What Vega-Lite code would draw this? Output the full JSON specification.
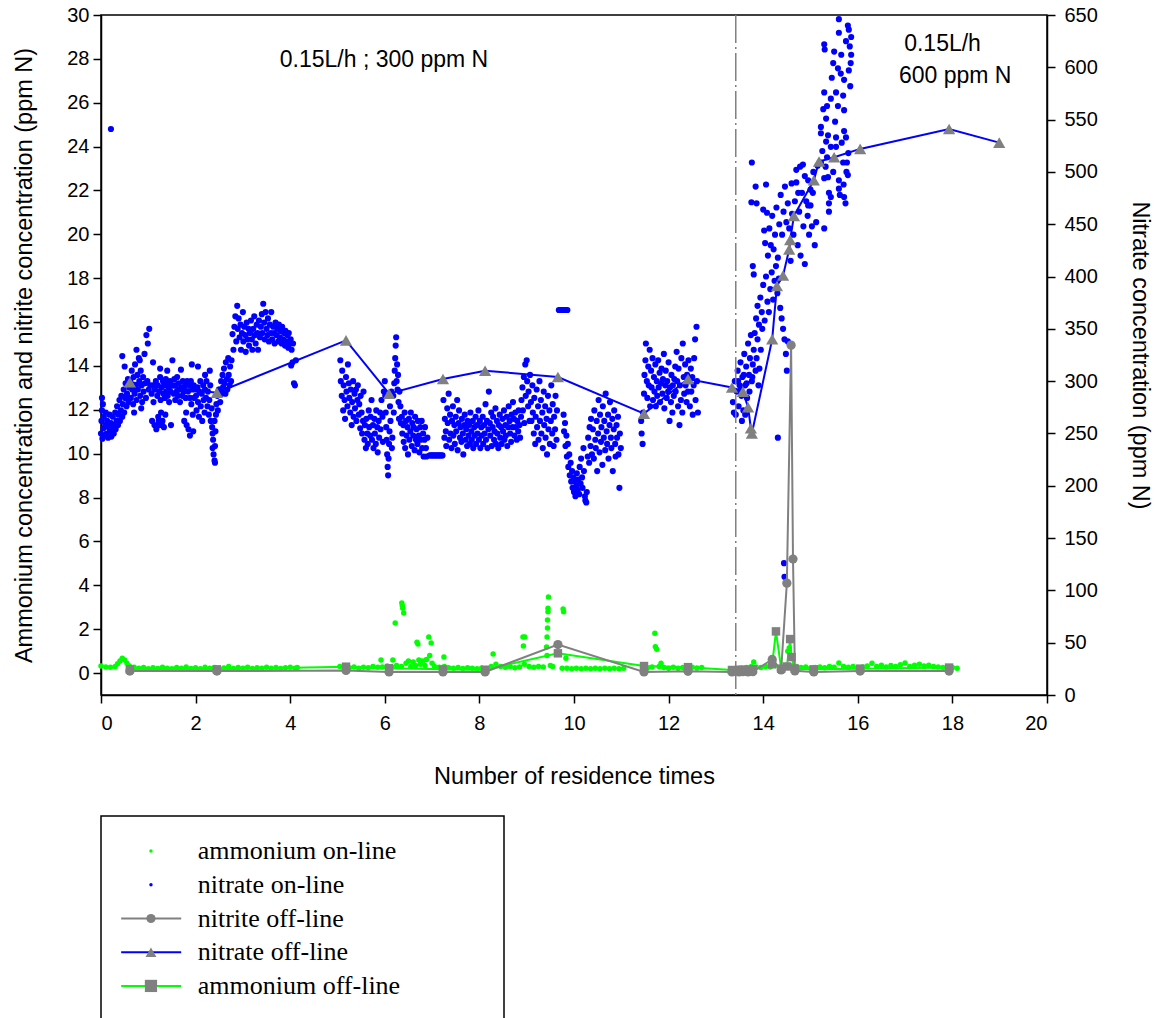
{
 "$schema": "https://vega.github.io/schema/vega-lite/v6.json",
 "autosize": {"type": "pad"},
 "padding": {"left": 12, "top": 4, "right": 5, "bottom": 0},
 "bounds": "flush",
 "spacing": 121,
 "config": {
  "view": {"stroke": "black", "strokeWidth": 1.5},
  "axis": {"labelFont": "Liberation Sans", "titleFont": "Liberation Sans", "labelFontSize": 20, "titleFontSize": 23.5, "titleFontWeight": "normal", "labelColor": "black", "titleColor": "black", "tickColor": "black", "domainColor": "black", "grid": false, "tickSize": 8, "tickWidth": 1.5, "domainWidth": 1.5}
 },
 "datasets": {
  "nitOn": [
   {"x":0.00,"n":250},{"x":0.01,"n":262},{"x":0.02,"n":272},{"x":0.02,"n":284},{"x":0.03,"n":245},{"x":0.04,"n":278},{"x":0.05,"n":255},{"x":0.06,"n":266},{"x":0.08,"n":248},{"x":0.09,"n":258},{"x":0.10,"n":270},{"x":0.12,"n":250},{"x":0.13,"n":262},{"x":0.15,"n":246},{"x":0.16,"n":256},{"x":0.18,"n":268},{"x":0.19,"n":252},{"x":0.21,"n":260},{"x":0.21,"n":541},{"x":0.22,"n":247},{"x":0.24,"n":256},{"x":0.25,"n":266},{"x":0.27,"n":250},{"x":0.28,"n":258},{"x":0.30,"n":270},{"x":0.31,"n":254},{"x":0.33,"n":262},{"x":0.34,"n":276},{"x":0.36,"n":258},{"x":0.37,"n":268},{"x":0.39,"n":282},{"x":0.40,"n":262},{"x":0.42,"n":272},{"x":0.43,"n":286},{"x":0.45,"n":266},{"x":0.45,"n":324},{"x":0.46,"n":278},{"x":0.48,"n":292},{"x":0.49,"n":270},{"x":0.50,"n":314},{"x":0.51,"n":284},{"x":0.52,"n":298},{"x":0.54,"n":276},{"x":0.55,"n":288},{"x":0.57,"n":302},{"x":0.58,"n":280},{"x":0.60,"n":294},
   {"x":0.62,"n":300},{"x":0.63,"n":284},{"x":0.65,"n":310},{"x":0.66,"n":292},{"x":0.68,"n":278},{"x":0.69,"n":304},{"x":0.70,"n":270},{"x":0.71,"n":288},{"x":0.72,"n":316},{"x":0.74,"n":296},{"x":0.75,"n":282},{"x":0.75,"n":330},{"x":0.77,"n":306},{"x":0.78,"n":292},{"x":0.80,"n":322},{"x":0.81,"n":300},{"x":0.82,"n":320},{"x":0.83,"n":286},{"x":0.84,"n":310},{"x":0.85,"n":274},{"x":0.86,"n":296},{"x":0.87,"n":280},{"x":0.89,"n":304},{"x":0.90,"n":290},{"x":0.92,"n":326},{"x":0.93,"n":298},{"x":0.95,"n":284},{"x":0.96,"n":344},{"x":0.98,"n":300},{"x":0.99,"n":336},{"x":1.01,"n":292},{"x":1.02,"n":350},{"x":1.04,"n":296},
   {"x":1.07,"n":288},{"x":1.08,"n":262},{"x":1.10,"n":296},{"x":1.10,"n":318},{"x":1.11,"n":280},{"x":1.13,"n":258},{"x":1.14,"n":292},{"x":1.16,"n":300},{"x":1.17,"n":254},{"x":1.19,"n":286},{"x":1.20,"n":296},{"x":1.21,"n":266},{"x":1.22,"n":262},{"x":1.23,"n":290},{"x":1.24,"n":258},{"x":1.25,"n":304},{"x":1.25,"n":312},{"x":1.26,"n":282},{"x":1.27,"n":270},{"x":1.28,"n":294},{"x":1.29,"n":258},{"x":1.30,"n":262},{"x":1.31,"n":300},{"x":1.32,"n":288},{"x":1.33,"n":256},{"x":1.34,"n":296},{"x":1.35,"n":284},{"x":1.36,"n":268},{"x":1.37,"n":302},{"x":1.38,"n":290},{"x":1.40,"n":298},{"x":1.40,"n":310},{"x":1.41,"n":286},{"x":1.43,"n":294},{"x":1.44,"n":280},{"x":1.46,"n":300},{"x":1.47,"n":290},{"x":1.48,"n":258},{"x":1.49,"n":296},
   {"x":1.51,"n":320},{"x":1.52,"n":296},{"x":1.54,"n":288},{"x":1.55,"n":302},{"x":1.57,"n":282},{"x":1.58,"n":296},{"x":1.60,"n":290},{"x":1.61,"n":304},{"x":1.63,"n":286},{"x":1.64,"n":298},{"x":1.66,"n":292},{"x":1.67,"n":280},{"x":1.69,"n":311},{"x":1.70,"n":294},{"x":1.72,"n":286},{"x":1.73,"n":300},{"x":1.75,"n":290},{"x":1.76,"n":262},{"x":1.78,"n":296},{"x":1.79,"n":284},{"x":1.80,"n":270},{"x":1.81,"n":258},{"x":1.82,"n":300},{"x":1.84,"n":290},{"x":1.85,"n":254},{"x":1.87,"n":296},{"x":1.88,"n":284},{"x":1.88,"n":248},{"x":1.90,"n":300},{"x":1.91,"n":278},{"x":1.92,"n":316},{"x":1.93,"n":292},{"x":1.94,"n":268},{"x":1.95,"n":252},{"x":1.96,"n":296},{"x":1.97,"n":284},{"x":1.99,"n":292},
   {"x":2.01,"n":286},{"x":2.02,"n":272},{"x":2.04,"n":294},{"x":2.05,"n":314},{"x":2.05,"n":280},{"x":2.07,"n":266},{"x":2.08,"n":290},{"x":2.10,"n":300},{"x":2.11,"n":276},{"x":2.13,"n":288},{"x":2.14,"n":262},{"x":2.16,"n":296},{"x":2.17,"n":282},{"x":2.19,"n":270},{"x":2.20,"n":292},{"x":2.20,"n":306},{"x":2.22,"n":284},{"x":2.23,"n":300},{"x":2.25,"n":276},{"x":2.26,"n":290},{"x":2.28,"n":268},{"x":2.29,"n":282},{"x":2.30,"n":310},{"x":2.31,"n":296},{"x":2.32,"n":262},{"x":2.34,"n":274},{"x":2.35,"n":256},{"x":2.36,"n":250},{"x":2.36,"n":236},{"x":2.37,"n":244},{"x":2.38,"n":230},{"x":2.40,"n":224},{"x":2.40,"n":262},{"x":2.41,"n":222},{"x":2.41,"n":238},{"x":2.42,"n":252},{"x":2.43,"n":268},{"x":2.44,"n":278},{"x":2.46,"n":286},{"x":2.47,"n":272},{"x":2.49,"n":292},
   {"x":2.51,"n":292},{"x":2.52,"n":280},{"x":2.54,"n":300},{"x":2.55,"n":288},{"x":2.57,"n":306},{"x":2.58,"n":294},{"x":2.60,"n":312},{"x":2.61,"n":298},{"x":2.63,"n":288},{"x":2.64,"n":318},{"x":2.66,"n":302},{"x":2.67,"n":292},{"x":2.69,"n":322},{"x":2.70,"n":306},{"x":2.72,"n":296},{"x":2.73,"n":314},{"x":2.75,"n":300},{"x":2.76,"n":320},
   {"x":2.78,"n":345},{"x":2.80,"n":330},{"x":2.82,"n":352},{"x":2.84,"n":362},{"x":2.86,"n":338},{"x":2.88,"n":372},{"x":2.89,"n":350},{"x":2.91,"n":360},{"x":2.93,"n":342},{"x":2.95,"n":354},{"x":2.96,"n":330},{"x":2.98,"n":346},{"x":3.00,"n":366},{"x":3.01,"n":338},{"x":3.03,"n":352},{"x":3.05,"n":344},{"x":3.06,"n":328},{"x":3.08,"n":356},{"x":3.10,"n":340},{"x":3.12,"n":350},{"x":3.13,"n":334},{"x":3.15,"n":346},{"x":3.17,"n":358},{"x":3.19,"n":340},{"x":3.20,"n":330},{"x":3.22,"n":350},{"x":3.24,"n":362},{"x":3.25,"n":344},{"x":3.27,"n":336},{"x":3.29,"n":354},{"x":3.31,"n":346},{"x":3.32,"n":330},{"x":3.34,"n":358},{"x":3.36,"n":342},{"x":3.38,"n":352},{"x":3.40,"n":364},{"x":3.41,"n":346},{"x":3.43,"n":374},{"x":3.45,"n":356},{"x":3.46,"n":340},{"x":3.48,"n":366},{"x":3.50,"n":350},{"x":3.52,"n":344},{"x":3.53,"n":360},{"x":3.55,"n":338},{"x":3.57,"n":354},{"x":3.59,"n":346},{"x":3.60,"n":366},{"x":3.62,"n":340},{"x":3.64,"n":352},{"x":3.66,"n":346},{"x":3.67,"n":336},{"x":3.69,"n":356},{"x":3.71,"n":344},{"x":3.73,"n":350},{"x":3.75,"n":338},{"x":3.76,"n":354},{"x":3.78,"n":342},{"x":3.80,"n":348},{"x":3.82,"n":336},{"x":3.83,"n":352},{"x":3.85,"n":340},{"x":3.87,"n":346},{"x":3.89,"n":334},{"x":3.90,"n":348},{"x":3.92,"n":338},{"x":3.94,"n":344},{"x":3.96,"n":332},{"x":3.97,"n":346},{"x":3.99,"n":336},{"x":4.01,"n":340},{"x":4.02,"n":315},{"x":4.03,"n":330},{"x":4.05,"n":318},{"x":4.06,"n":336},{"x":4.08,"n":298},{"x":4.10,"n":296},{"x":4.12,"n":320},
   {"x":5.06,"n":320},{"x":5.07,"n":300},{"x":5.09,"n":286},{"x":5.10,"n":310},{"x":5.12,"n":272},{"x":5.13,"n":296},{"x":5.15,"n":282},{"x":5.16,"n":264},{"x":5.18,"n":304},{"x":5.19,"n":290},{"x":5.21,"n":276},{"x":5.22,"n":316},{"x":5.24,"n":298},{"x":5.25,"n":284},{"x":5.27,"n":270},{"x":5.28,"n":292},{"x":5.30,"n":258},{"x":5.31,"n":280},{"x":5.33,"n":300},{"x":5.34,"n":266},{"x":5.36,"n":288},{"x":5.37,"n":274},{"x":5.39,"n":292},{"x":5.40,"n":262},{"x":5.42,"n":282},{"x":5.43,"n":296},{"x":5.45,"n":268},{"x":5.46,"n":278},{"x":5.48,"n":255},{"x":5.49,"n":286},{"x":5.51,"n":270},{"x":5.52,"n":250},{"x":5.54,"n":262},{"x":5.55,"n":290},{"x":5.57,"n":244},{"x":5.58,"n":258},{"x":5.60,"n":236},{"x":5.61,"n":264},{"x":5.63,"n":250},{"x":5.64,"n":240},{"x":5.66,"n":272},{"x":5.67,"n":256},{"x":5.69,"n":248},{"x":5.70,"n":266},{"x":5.72,"n":282},{"x":5.73,"n":244},{"x":5.75,"n":258},{"x":5.76,"n":236},{"x":5.78,"n":264},{"x":5.79,"n":250},{"x":5.81,"n":240},{"x":5.82,"n":272},{"x":5.84,"n":256},{"x":5.85,"n":232},{"x":5.87,"n":262},{"x":5.88,"n":246},{"x":5.90,"n":270},{"x":5.91,"n":254},{"x":5.93,"n":282},{"x":5.95,"n":266},{"x":5.96,"n":242},{"x":5.98,"n":290},
   {"x":6.00,"n":300},{"x":6.01,"n":286},{"x":6.02,"n":270},{"x":6.03,"n":256},{"x":6.04,"n":244},{"x":6.05,"n":230},{"x":6.06,"n":218},{"x":6.07,"n":210},{"x":6.08,"n":226},{"x":6.09,"n":240},{"x":6.10,"n":252},{"x":6.11,"n":276},{"x":6.12,"n":262},{"x":6.14,"n":290},{"x":6.15,"n":236},{"x":6.16,"n":246},{"x":6.18,"n":286},{"x":6.19,"n":270},{"x":6.20,"n":298},{"x":6.21,"n":310},{"x":6.22,"n":322},{"x":6.23,"n":334},{"x":6.24,"n":342},{"x":6.25,"n":300},{"x":6.26,"n":316},{"x":6.27,"n":292},{"x":6.28,"n":306},{"x":6.29,"n":280},{"x":6.30,"n":264},{"x":6.31,"n":290},{"x":6.33,"n":276},{"x":6.34,"n":260},
   {"x":6.36,"n":266},{"x":6.37,"n":250},{"x":6.39,"n":258},{"x":6.40,"n":242},{"x":6.42,"n":270},{"x":6.43,"n":236},{"x":6.45,"n":262},{"x":6.46,"n":248},{"x":6.48,"n":256},{"x":6.49,"n":230},{"x":6.51,"n":264},{"x":6.52,"n":244},{"x":6.54,"n":252},{"x":6.55,"n":270},{"x":6.57,"n":238},{"x":6.58,"n":260},{"x":6.60,"n":248},{"x":6.61,"n":256},{"x":6.63,"n":234},{"x":6.64,"n":266},{"x":6.66,"n":244},{"x":6.67,"n":254},{"x":6.69,"n":240},{"x":6.70,"n":262},{"x":6.72,"n":248},{"x":6.73,"n":232},{"x":6.75,"n":256},{"x":6.76,"n":244},{"x":6.78,"n":262},{"x":6.79,"n":236},{"x":6.81,"n":250},{"x":6.82,"n":228},{"x":6.84,"n":244},{"x":6.85,"n":256},{"x":6.87,"n":236},{"x":6.88,"n":228},{"x":6.90,"n":246},
   {"x":6.95,"n":229},{"x":6.98,"n":229},{"x":7.01,"n":229},{"x":7.04,"n":229},{"x":7.07,"n":229},{"x":7.10,"n":229},{"x":7.13,"n":229},{"x":7.16,"n":229},{"x":7.19,"n":229},{"x":7.22,"n":229},
   {"x":7.24,"n":282},{"x":7.26,"n":246},{"x":7.27,"n":264},{"x":7.29,"n":252},{"x":7.30,"n":238},{"x":7.32,"n":274},{"x":7.33,"n":260},{"x":7.35,"n":288},{"x":7.36,"n":244},{"x":7.38,"n":268},{"x":7.39,"n":250},{"x":7.41,"n":236},{"x":7.42,"n":262},{"x":7.44,"n":276},{"x":7.45,"n":248},{"x":7.47,"n":258},{"x":7.48,"n":240},{"x":7.50,"n":266},{"x":7.51,"n":252},{"x":7.53,"n":282},{"x":7.54,"n":234},{"x":7.56,"n":260},{"x":7.57,"n":272},{"x":7.59,"n":246},{"x":7.60,"n":256},{"x":7.62,"n":242},{"x":7.63,"n":264},{"x":7.65,"n":250},{"x":7.66,"n":230},{"x":7.68,"n":258},{"x":7.69,"n":268},{"x":7.71,"n":244},{"x":7.72,"n":254},{"x":7.74,"n":238},{"x":7.75,"n":262},{"x":7.77,"n":248},{"x":7.78,"n":258},{"x":7.80,"n":240},{"x":7.81,"n":270},{"x":7.83,"n":252},{"x":7.84,"n":244},{"x":7.86,"n":262},{"x":7.87,"n":236},{"x":7.89,"n":256},{"x":7.90,"n":248},{"x":7.92,"n":266},{"x":7.93,"n":240},{"x":7.95,"n":258},{"x":7.96,"n":250},{"x":7.98,"n":272},{"x":7.99,"n":244},{"x":8.01,"n":262},{"x":8.02,"n":236},{"x":8.04,"n":256},{"x":8.05,"n":248},{"x":8.07,"n":266},{"x":8.08,"n":240},{"x":8.10,"n":258},{"x":8.11,"n":250},{"x":8.13,"n":278},{"x":8.14,"n":244},{"x":8.16,"n":262},{"x":8.17,"n":236},{"x":8.19,"n":254},{"x":8.20,"n":290},
   {"x":8.22,"n":260},{"x":8.23,"n":248},{"x":8.25,"n":270},{"x":8.26,"n":238},{"x":8.28,"n":256},{"x":8.29,"n":266},{"x":8.31,"n":244},{"x":8.32,"n":252},{"x":8.34,"n":274},{"x":8.35,"n":240},{"x":8.37,"n":262},{"x":8.38,"n":250},{"x":8.40,"n":236},{"x":8.41,"n":258},{"x":8.43,"n":268},{"x":8.44,"n":246},{"x":8.46,"n":256},{"x":8.47,"n":240},{"x":8.49,"n":264},{"x":8.50,"n":252},{"x":8.52,"n":272},{"x":8.53,"n":244},{"x":8.55,"n":258},{"x":8.56,"n":248},{"x":8.58,"n":266},{"x":8.59,"n":238},{"x":8.61,"n":256},{"x":8.62,"n":276},{"x":8.64,"n":262},{"x":8.65,"n":250},{"x":8.67,"n":242},{"x":8.68,"n":268},{"x":8.70,"n":256},{"x":8.71,"n":280},{"x":8.73,"n":264},{"x":8.74,"n":248},{"x":8.76,"n":270},{"x":8.77,"n":256},{"x":8.79,"n":244},{"x":8.80,"n":262},{"x":8.82,"n":252},{"x":8.83,"n":272},{"x":8.85,"n":258},{"x":8.86,"n":246},{"x":8.88,"n":266},{"x":8.89,"n":282},{"x":8.91,"n":294},{"x":8.92,"n":272},{"x":8.94,"n":304},{"x":8.95,"n":260},{"x":8.97,"n":316},{"x":8.98,"n":286},{"x":9.00,"n":320},{"x":9.01,"n":300},{"x":9.03,"n":276},{"x":9.04,"n":290},{"x":9.06,"n":262},{"x":9.07,"n":306},
   {"x":9.09,"n":280},{"x":9.10,"n":262},{"x":9.12,"n":296},{"x":9.13,"n":270},{"x":9.15,"n":250},{"x":9.16,"n":284},{"x":9.18,"n":240},{"x":9.19,"n":266},{"x":9.21,"n":292},{"x":9.22,"n":256},{"x":9.24,"n":276},{"x":9.25,"n":244},{"x":9.27,"n":300},{"x":9.28,"n":262},{"x":9.30,"n":282},{"x":9.31,"n":250},{"x":9.33,"n":270},{"x":9.34,"n":236},{"x":9.36,"n":290},{"x":9.37,"n":258},{"x":9.39,"n":276},{"x":9.40,"n":246},{"x":9.42,"n":264},{"x":9.43,"n":230},{"x":9.45,"n":286},{"x":9.46,"n":254},{"x":9.48,"n":272},{"x":9.49,"n":240},{"x":9.51,"n":262},{"x":9.52,"n":296},{"x":9.54,"n":250},{"x":9.55,"n":278},{"x":9.57,"n":238},{"x":9.58,"n":266},{"x":9.60,"n":254},{"x":9.61,"n":286},{"x":9.63,"n":244},{"x":9.64,"n":272},
   {"x":9.68,"n":368},{"x":9.71,"n":368},{"x":9.74,"n":368},{"x":9.77,"n":368},{"x":9.80,"n":368},{"x":9.83,"n":368},{"x":9.86,"n":368},
   {"x":9.78,"n":268},{"x":9.79,"n":252},{"x":9.81,"n":260},{"x":9.82,"n":238},{"x":9.84,"n":248},{"x":9.85,"n":228},{"x":9.87,"n":240},{"x":9.88,"n":218},{"x":9.90,"n":230},{"x":9.91,"n":210},{"x":9.93,"n":222},{"x":9.94,"n":204},{"x":9.96,"n":214},{"x":9.97,"n":198},{"x":9.99,"n":208},{"x":10.00,"n":194},{"x":10.02,"n":204},{"x":10.03,"n":190},{"x":10.05,"n":200},{"x":10.06,"n":212},{"x":10.08,"n":196},{"x":10.09,"n":206},{"x":10.11,"n":192},{"x":10.12,"n":218},{"x":10.14,"n":202},{"x":10.15,"n":226},{"x":10.17,"n":208},{"x":10.18,"n":198},{"x":10.20,"n":236},{"x":10.21,"n":214},{"x":10.23,"n":190},{"x":10.24,"n":186},{"x":10.26,"n":184},{"x":10.27,"n":194},{"x":10.29,"n":228},{"x":10.30,"n":246},{"x":10.32,"n":222},{"x":10.33,"n":256},{"x":10.35,"n":238},{"x":10.36,"n":264},{"x":10.38,"n":230},
   {"x":10.40,"n":254},{"x":10.42,"n":226},{"x":10.43,"n":272},{"x":10.45,"n":244},{"x":10.46,"n":236},{"x":10.48,"n":262},{"x":10.49,"n":214},{"x":10.51,"n":250},{"x":10.52,"n":282},{"x":10.54,"n":232},{"x":10.55,"n":268},{"x":10.57,"n":242},{"x":10.58,"n":256},{"x":10.60,"n":220},{"x":10.61,"n":276},{"x":10.63,"n":246},{"x":10.64,"n":262},{"x":10.66,"n":234},{"x":10.67,"n":288},{"x":10.69,"n":252},{"x":10.70,"n":240},{"x":10.72,"n":268},{"x":10.73,"n":226},{"x":10.75,"n":258},{"x":10.76,"n":280},{"x":10.78,"n":246},{"x":10.79,"n":236},{"x":10.81,"n":264},{"x":10.82,"n":214},{"x":10.84,"n":254},{"x":10.85,"n":272},{"x":10.87,"n":240},{"x":10.88,"n":228},{"x":10.90,"n":258},{"x":10.91,"n":246},{"x":10.93,"n":266},{"x":10.94,"n":230},{"x":10.96,"n":198},{"x":10.97,"n":250},{"x":10.99,"n":236},
   {"x":11.42,"n":262},{"x":11.43,"n":250},{"x":11.45,"n":240},{"x":11.46,"n":270},{"x":11.48,"n":288},{"x":11.49,"n":306},{"x":11.51,"n":320},{"x":11.52,"n":336},{"x":11.54,"n":300},{"x":11.55,"n":284},{"x":11.57,"n":314},{"x":11.58,"n":296},{"x":11.60,"n":330},{"x":11.61,"n":276},{"x":11.63,"n":310},{"x":11.64,"n":294},{"x":11.66,"n":322},{"x":11.67,"n":282},{"x":11.69,"n":304},{"x":11.70,"n":290},{"x":11.72,"n":316},{"x":11.73,"n":276},{"x":11.75,"n":300},{"x":11.76,"n":286},{"x":11.78,"n":320},{"x":11.79,"n":294},{"x":11.81,"n":308},{"x":11.82,"n":280},{"x":11.84,"n":298},{"x":11.85,"n":312},{"x":11.87,"n":288},{"x":11.88,"n":302},{"x":11.90,"n":326},{"x":11.91,"n":274},{"x":11.93,"n":296},{"x":11.94,"n":310},{"x":11.96,"n":284},{"x":11.97,"n":300},{"x":11.99,"n":290},{"x":12.00,"n":318},{"x":12.02,"n":262},{"x":12.03,"n":294},{"x":12.05,"n":280},{"x":12.06,"n":306},{"x":12.08,"n":270},{"x":12.09,"n":296},{"x":12.11,"n":286},{"x":12.12,"n":302},{"x":12.14,"n":314},{"x":12.15,"n":290},{"x":12.17,"n":328},{"x":12.18,"n":300},{"x":12.20,"n":276},{"x":12.21,"n":312},{"x":12.23,"n":258},{"x":12.24,"n":296},{"x":12.26,"n":282},{"x":12.27,"n":322},{"x":12.29,"n":270},{"x":12.30,"n":336},{"x":12.32,"n":304},{"x":12.33,"n":288},{"x":12.35,"n":316},{"x":12.36,"n":296},{"x":12.38,"n":280},{"x":12.39,"n":306},{"x":12.41,"n":290},{"x":12.42,"n":320},{"x":12.44,"n":300},{"x":12.45,"n":276},{"x":12.47,"n":312},{"x":12.48,"n":290},{"x":12.50,"n":304},{"x":12.51,"n":268},{"x":12.53,"n":296},{"x":12.54,"n":322},{"x":12.56,"n":340},{"x":12.57,"n":282},{"x":12.59,"n":352},{"x":12.60,"n":300},{"x":12.62,"n":270},
   {"x":13.36,"n":280},{"x":13.38,"n":270},{"x":13.40,"n":300},{"x":13.42,"n":268},{"x":13.44,"n":290},{"x":13.46,"n":310},{"x":13.47,"n":300},{"x":13.48,"n":276},{"x":13.50,"n":296},{"x":13.52,"n":318},{"x":13.53,"n":292},{"x":13.54,"n":286},{"x":13.55,"n":262},{"x":13.56,"n":304},{"x":13.58,"n":272},{"x":13.59,"n":306},{"x":13.60,"n":326},{"x":13.62,"n":296},{"x":13.62,"n":268},{"x":13.64,"n":314},{"x":13.65,"n":298},{"x":13.66,"n":284},{"x":13.68,"n":336},{"x":13.70,"n":306},{"x":13.71,"n":290},{"x":13.72,"n":322},{"x":13.74,"n":344},{"x":13.76,"n":300},{"x":13.77,"n":304},{"x":13.78,"n":316},{"x":13.80,"n":330},{"x":13.82,"n":346},{"x":13.84,"n":310},{"x":13.86,"n":322},{"x":13.88,"n":340},{"x":13.90,"n":296},{"x":13.92,"n":312},{"x":13.95,"n":330},{"x":13.98,"n":350},
   {"x":13.78,"n":410},{"x":13.80,"n":402},{"x":13.85,"n":360},{"x":13.88,"n":372},{"x":13.91,"n":354},{"x":13.94,"n":380},{"x":13.97,"n":366},{"x":14.00,"n":392},{"x":14.03,"n":358},{"x":14.06,"n":400},{"x":14.09,"n":376},{"x":14.12,"n":366},{"x":14.15,"n":388},{"x":14.18,"n":404},{"x":14.21,"n":378},{"x":14.24,"n":396},{"x":14.27,"n":410},{"x":14.30,"n":384},{"x":14.33,"n":398},{"x":14.36,"n":370},{"x":14.39,"n":360},{"x":14.42,"n":350},{"x":14.45,"n":340},{"x":14.48,"n":326},{"x":14.50,"n":310},{"x":14.52,"n":338},{"x":14.31,"n":246},{"x":14.44,"n":126},{"x":14.45,"n":113},
   {"x":13.76,"n":509},{"x":13.75,"n":471},{"x":13.84,"n":486},{"x":13.86,"n":470},{"x":14.00,"n":464},{"x":14.02,"n":444},{"x":14.04,"n":432},{"x":14.06,"n":488},{"x":14.08,"n":461},{"x":14.10,"n":420},{"x":14.13,"n":446},{"x":14.16,"n":430},{"x":14.19,"n":458},{"x":14.22,"n":426},{"x":14.25,"n":440},{"x":14.28,"n":466},{"x":14.31,"n":418},{"x":14.34,"n":450},{"x":14.37,"n":478},{"x":14.40,"n":440},{"x":14.43,"n":462},{"x":14.46,"n":486},{"x":14.49,"n":452},{"x":14.52,"n":470},{"x":14.55,"n":446},{"x":14.58,"n":415},{"x":14.60,"n":489},{"x":14.61,"n":460},{"x":14.64,"n":440},{"x":14.67,"n":472},{"x":14.70,"n":502},{"x":14.70,"n":490},{"x":14.73,"n":430},{"x":14.74,"n":480},{"x":14.76,"n":462},{"x":14.78,"n":505},{"x":14.79,"n":420},{"x":14.82,"n":480},{"x":14.84,"n":507},{"x":14.85,"n":448},{"x":14.88,"n":412},{"x":14.88,"n":496},{"x":14.91,"n":472},{"x":14.94,"n":458},{"x":14.95,"n":492},{"x":14.95,"n":468},{"x":14.97,"n":440},{"x":15.00,"n":483},{"x":15.00,"n":468},{"x":15.03,"n":448},{"x":15.05,"n":480},{"x":15.06,"n":500},{"x":15.09,"n":430},{"x":15.12,"n":452},{"x":15.15,"n":506},
   {"x":15.60,"n":646},{"x":15.79,"n":640},{"x":15.81,"n":636},{"x":15.60,"n":633},{"x":15.86,"n":629},{"x":15.29,"n":622},{"x":15.30,"n":617},{"x":15.50,"n":615},{"x":15.83,"n":620},{"x":15.86,"n":612},{"x":15.48,"n":604},{"x":15.58,"n":599},{"x":15.64,"n":594},{"x":15.71,"n":588},{"x":15.85,"n":604},{"x":15.81,"n":597},{"x":15.29,"n":576},{"x":15.54,"n":576},{"x":15.43,"n":570},{"x":15.35,"n":563},{"x":15.58,"n":563},{"x":15.69,"n":573},{"x":15.71,"n":559},{"x":15.33,"n":551},{"x":15.22,"n":543},{"x":15.37,"n":535},{"x":15.54,"n":533},{"x":15.71,"n":539},{"x":15.75,"n":533},{"x":15.22,"n":537},{"x":15.33,"n":529},{"x":15.43,"n":524},{"x":15.54,"n":524},{"x":15.35,"n":514},{"x":15.69,"n":509},{"x":15.77,"n":509},{"x":15.22,"n":509},{"x":15.29,"n":494},{"x":15.37,"n":495},{"x":15.60,"n":492},{"x":15.79,"n":497},{"x":15.60,"n":484},{"x":15.71,"n":476},{"x":15.39,"n":480},{"x":15.43,"n":476},{"x":15.39,"n":470},{"x":15.39,"n":462},{"x":15.29,"n":446},{"x":15.62,"n":478},{"x":15.70,"n":488},{"x":15.76,"n":500},{"x":15.80,"n":518},{"x":15.66,"n":528},{"x":15.74,"n":470},{"x":15.27,"n":560},{"x":15.45,"n":590},{"x":15.52,"n":548},{"x":15.65,"n":612},{"x":15.75,"n":625},{"x":15.84,"n":582},{"x":15.48,"n":500},{"x":15.25,"n":520},{"x":15.32,"n":505}
  ],
  "ammOn": [
   {"x":0.0,"a":0.32},{"x":0.1,"a":0.28},{"x":0.2,"a":0.26},{"x":0.3,"a":0.30},{"x":0.35,"a":0.42},{"x":0.4,"a":0.55},{"x":0.45,"a":0.68},{"x":0.5,"a":0.60},{"x":0.55,"a":0.45},{"x":0.6,"a":0.32},{"x":0.7,"a":0.26},{"x":0.8,"a":0.22},{"x":0.9,"a":0.25},{"x":1.0,"a":0.20},{"x":1.1,"a":0.24},{"x":1.2,"a":0.21},{"x":1.3,"a":0.27},{"x":1.4,"a":0.22},{"x":1.5,"a":0.20},{"x":1.6,"a":0.25},{"x":1.7,"a":0.22},{"x":1.8,"a":0.28},{"x":1.9,"a":0.21},{"x":2.0,"a":0.24},{"x":2.1,"a":0.20},{"x":2.2,"a":0.26},{"x":2.3,"a":0.22},{"x":2.4,"a":0.25},{"x":2.5,"a":0.20},{"x":2.6,"a":0.23},{"x":2.7,"a":0.30},{"x":2.8,"a":0.21},{"x":2.9,"a":0.25},{"x":3.0,"a":0.22},{"x":3.1,"a":0.26},{"x":3.2,"a":0.21},{"x":3.3,"a":0.24},{"x":3.4,"a":0.22},{"x":3.5,"a":0.27},{"x":3.6,"a":0.22},{"x":3.7,"a":0.25},{"x":3.8,"a":0.21},{"x":3.9,"a":0.24},{"x":4.0,"a":0.26},{"x":4.1,"a":0.22},{"x":4.15,"a":0.25},
   {"x":5.05,"a":0.30},{"x":5.15,"a":0.26},{"x":5.25,"a":0.24},{"x":5.35,"a":0.28},{"x":5.45,"a":0.22},{"x":5.55,"a":0.26},{"x":5.65,"a":0.24},{"x":5.75,"a":0.30},{"x":5.85,"a":0.26},{"x":5.92,"a":0.60},{"x":5.95,"a":0.28},{"x":6.05,"a":0.32},{"x":6.15,"a":0.26},{"x":6.17,"a":0.60},{"x":6.22,"a":2.28},{"x":6.25,"a":0.35},{"x":6.35,"a":0.30},{"x":6.36,"a":3.20},{"x":6.37,"a":3.08},{"x":6.38,"a":2.95},{"x":6.40,"a":2.74},{"x":6.45,"a":0.45},{"x":6.50,"a":0.55},{"x":6.55,"a":0.30},{"x":6.6,"a":0.50},{"x":6.65,"a":0.35},{"x":6.68,"a":1.41},{"x":6.70,"a":1.33},{"x":6.72,"a":0.60},{"x":6.75,"a":0.40},{"x":6.8,"a":0.55},{"x":6.85,"a":0.35},{"x":6.88,"a":0.62},{"x":6.93,"a":1.64},{"x":6.95,"a":0.80},{"x":6.98,"a":1.37},{"x":7.0,"a":0.45},{"x":7.05,"a":0.30},{"x":7.15,"a":0.26},{"x":7.25,"a":0.73},{"x":7.26,"a":0.30},{"x":7.35,"a":0.24},{"x":7.45,"a":0.22},{"x":7.55,"a":0.25},{"x":7.65,"a":0.21},{"x":7.75,"a":0.24},{"x":7.85,"a":0.22},{"x":7.95,"a":0.20},{"x":8.05,"a":0.23},{"x":8.15,"a":0.21},{"x":8.25,"a":0.30},{"x":8.29,"a":0.87},{"x":8.35,"a":0.40},{"x":8.45,"a":0.30},{"x":8.55,"a":0.26},{"x":8.65,"a":0.30},{"x":8.75,"a":0.24},{"x":8.85,"a":0.28},{"x":8.92,"a":1.64},{"x":8.93,"a":1.23},{"x":8.96,"a":1.64},{"x":8.95,"a":0.40},{"x":9.05,"a":0.30},{"x":9.15,"a":0.26},{"x":9.25,"a":0.30},{"x":9.35,"a":0.28},{"x":9.43,"a":0.80},{"x":9.42,"a":1.19},{"x":9.43,"a":1.64},{"x":9.44,"a":2.05},{"x":9.44,"a":2.42},{"x":9.45,"a":2.80},{"x":9.45,"a":2.96},{"x":9.46,"a":3.47},{"x":9.50,"a":0.35},{"x":9.55,"a":0.30},{"x":9.75,"a":0.22},{"x":9.77,"a":2.92},{"x":9.78,"a":2.80},{"x":9.83,"a":0.68},{"x":9.85,"a":0.22},{"x":9.95,"a":0.20},{"x":10.05,"a":0.22},{"x":10.15,"a":0.20},{"x":10.25,"a":0.22},{"x":10.35,"a":0.20},{"x":10.45,"a":0.22},{"x":10.55,"a":0.20},{"x":10.65,"a":0.22},{"x":10.75,"a":0.20},{"x":10.85,"a":0.22},{"x":10.95,"a":0.20},{"x":11.05,"a":0.22},
   {"x":11.45,"a":0.25},{"x":11.55,"a":0.22},{"x":11.65,"a":0.28},{"x":11.71,"a":1.82},{"x":11.72,"a":1.20},{"x":11.75,"a":1.09},{"x":11.8,"a":0.30},{"x":11.84,"a":0.45},{"x":11.9,"a":0.25},{"x":12.0,"a":0.22},{"x":12.1,"a":0.26},{"x":12.2,"a":0.22},{"x":12.3,"a":0.25},{"x":12.4,"a":0.22},{"x":12.5,"a":0.26},{"x":12.6,"a":0.23},{"x":12.7,"a":0.25},
   {"x":13.45,"a":0.20},{"x":13.55,"a":0.22},{"x":13.65,"a":0.25},{"x":13.75,"a":0.30},{"x":13.8,"a":0.50},{"x":13.85,"a":0.28},{"x":13.95,"a":0.25},{"x":14.05,"a":0.30},{"x":14.15,"a":0.28},{"x":14.25,"a":0.35},{"x":14.35,"a":0.25},{"x":14.45,"a":0.30},{"x":14.52,"a":1.00},{"x":14.55,"a":1.14},{"x":14.6,"a":0.35},{"x":14.7,"a":0.30},{"x":14.8,"a":0.25},{"x":14.9,"a":0.28},{"x":15.0,"a":0.22},{"x":15.1,"a":0.25},{"x":15.2,"a":0.28},{"x":15.3,"a":0.24},{"x":15.4,"a":0.30},{"x":15.5,"a":0.26},{"x":15.6,"a":0.46},{"x":15.7,"a":0.30},{"x":15.8,"a":0.26},{"x":15.9,"a":0.30},{"x":16.0,"a":0.25},{"x":16.1,"a":0.28},{"x":16.2,"a":0.32},{"x":16.3,"a":0.45},{"x":16.4,"a":0.30},{"x":16.5,"a":0.36},{"x":16.6,"a":0.28},{"x":16.7,"a":0.34},{"x":16.8,"a":0.30},{"x":16.9,"a":0.38},{"x":17.0,"a":0.46},{"x":17.1,"a":0.30},{"x":17.2,"a":0.36},{"x":17.3,"a":0.40},{"x":17.4,"a":0.32},{"x":17.5,"a":0.36},{"x":17.6,"a":0.30},{"x":17.7,"a":0.28},{"x":17.8,"a":0.25},{"x":17.9,"a":0.22},{"x":18.0,"a":0.25},{"x":18.1,"a":0.22}
  ],
  "nitOff": [
   {"x":0.61,"n":299},{"x":2.45,"n":289},{"x":5.18,"n":339},{"x":6.09,"n":288},{"x":7.23,"n":302},{"x":8.12,"n":310},{"x":9.66,"n":304},{"x":11.48,"n":269},{"x":12.41,"n":302},{"x":13.34,"n":294},{"x":13.57,"n":290},{"x":13.68,"n":275},{"x":13.74,"n":255},{"x":13.76,"n":250},{"x":14.19,"n":340},{"x":14.29,"n":391},{"x":14.42,"n":401},{"x":14.55,"n":426},{"x":14.57,"n":435},{"x":14.65,"n":458},{"x":15.07,"n":492},{"x":15.18,"n":510},{"x":15.50,"n":514},{"x":16.05,"n":522},{"x":17.93,"n":541},{"x":18.99,"n":528}
  ],
  "nitriteOff": [
   {"x":0.61,"a":0.09},{"x":2.45,"a":0.09},{"x":5.18,"a":0.12},{"x":6.09,"a":0.05},{"x":7.23,"a":0.05},{"x":8.12,"a":0.05},{"x":9.66,"a":1.30},{"x":11.48,"a":0.05},{"x":12.41,"a":0.08},{"x":13.34,"a":0.05},{"x":13.49,"a":0.05},{"x":13.57,"a":0.06},{"x":13.68,"a":0.05},{"x":13.78,"a":0.06},{"x":14.19,"a":0.62},{"x":14.38,"a":0.14},{"x":14.50,"a":4.10},{"x":14.59,"a":14.95},{"x":14.63,"a":5.20},{"x":14.67,"a":0.10},{"x":15.07,"a":0.05},{"x":16.05,"a":0.09},{"x":17.93,"a":0.09}
  ],
  "ammOff": [
   {"x":0.61,"a":0.17},{"x":2.45,"a":0.17},{"x":5.18,"a":0.29},{"x":6.09,"a":0.22},{"x":7.23,"a":0.17},{"x":8.12,"a":0.15},{"x":9.66,"a":0.90},{"x":11.48,"a":0.32},{"x":12.41,"a":0.27},{"x":13.34,"a":0.14},{"x":13.49,"a":0.15},{"x":13.57,"a":0.15},{"x":13.68,"a":0.15},{"x":13.78,"a":0.17},{"x":14.19,"a":0.40},{"x":14.27,"a":1.90},{"x":14.38,"a":0.20},{"x":14.50,"a":0.30},{"x":14.57,"a":1.55},{"x":14.60,"a":0.73},{"x":14.67,"a":0.20},{"x":15.07,"a":0.17},{"x":16.05,"a":0.20},{"x":17.93,"a":0.25}
  ],
  "notes": [
   {"x":3.78,"a":27.95,"label":"0.15L/h ; 300 ppm N"},
   {"x":16.98,"a":28.68,"label":"0.15L/h"},
   {"x":16.87,"a":27.22,"label":"600 ppm N"}
  ],
  "change": [{"x":13.42}],
  "leg": [
   {"k":"ammonium on-line","r":1},
   {"k":"nitrate on-line","r":2},
   {"k":"nitrite off-line","r":3},
   {"k":"nitrate off-line","r":4},
   {"k":"ammonium off-line","r":5}
  ]
 },
 "vconcat": [
  {
   "width": 946,
   "height": 680,
   "encoding": {
    "x": {"field": "x", "type": "quantitative", "scale": {"domain": [0, 20], "nice": false, "zero": false},
     "axis": {"title": "Number of residence times", "values": [0,2,4,6,8,10,12,14,16,18,20], "labelPadding": 10, "titlePadding": 31}}
   },
   "layer": [
    {
     "data": {"name": "nitOn"},
     "mark": {"type": "circle", "size": 38, "color": "#0000ff", "opacity": 1},
     "encoding": {"y": {"field": "n", "type": "quantitative", "scale": {"domain": [0, 650], "nice": false, "zero": false},
      "axis": {"orient": "right", "title": "Nitrate concentration (ppm N)", "values": [0,50,100,150,200,250,300,350,400,450,500,550,600,650], "labelPadding": 9, "titlePadding": 30}}}
    },
    {
     "data": {"name": "ammOn"},
     "mark": {"type": "circle", "size": 30, "color": "#00ff00", "opacity": 1},
     "encoding": {"y": {"field": "a", "type": "quantitative", "scale": {"domain": [-1, 30], "nice": false, "zero": false},
      "axis": {"orient": "left", "title": "Ammonium concentration and nitrite concentration (ppm N)", "values": [0,2,4,6,8,10,12,14,16,18,20,22,24,26,28,30], "labelPadding": 4, "titlePadding": 30}}}
    },
    {
     "data": {"name": "change"},
     "mark": {"type": "rule", "color": "#808080", "strokeWidth": 1.5, "strokeDash": [28, 4, 2, 4]},
     "encoding": {}
    },
    {
     "data": {"name": "nitOff"},
     "mark": {"type": "line", "color": "#0000ff", "strokeWidth": 2},
     "encoding": {"y": {"field": "n", "type": "quantitative", "scale": {"domain": [0, 650], "nice": false, "zero": false}, "axis": null}}
    },
    {
     "data": {"name": "ammOff"},
     "mark": {"type": "line", "color": "#00ff00", "strokeWidth": 2},
     "encoding": {"y": {"field": "a", "type": "quantitative", "scale": {"domain": [-1, 30], "nice": false, "zero": false}, "axis": null}}
    },
    {
     "data": {"name": "nitriteOff"},
     "mark": {"type": "line", "color": "#808080", "strokeWidth": 2},
     "encoding": {"y": {"field": "a", "type": "quantitative", "scale": {"domain": [-1, 30], "nice": false, "zero": false}, "axis": null}}
    },
    {
     "data": {"name": "nitOff"},
     "mark": {"type": "point", "shape": "triangle-up", "filled": true, "color": "#808080", "opacity": 1, "size": 150},
     "encoding": {"y": {"field": "n", "type": "quantitative", "scale": {"domain": [0, 650], "nice": false, "zero": false}, "axis": null}}
    },
    {
     "data": {"name": "ammOff"},
     "mark": {"type": "point", "shape": "square", "filled": true, "color": "#808080", "opacity": 1, "size": 72},
     "encoding": {"y": {"field": "a", "type": "quantitative", "scale": {"domain": [-1, 30], "nice": false, "zero": false}, "axis": null}}
    },
    {
     "data": {"name": "nitriteOff"},
     "mark": {"type": "point", "shape": "circle", "filled": true, "color": "#808080", "opacity": 1, "size": 85},
     "encoding": {"y": {"field": "a", "type": "quantitative", "scale": {"domain": [-1, 30], "nice": false, "zero": false}, "axis": null}}
    },
    {
     "data": {"name": "notes"},
     "mark": {"type": "text", "align": "left", "baseline": "middle", "font": "Liberation Sans", "fontSize": 23, "color": "black"},
     "encoding": {"y": {"field": "a", "type": "quantitative", "scale": {"domain": [-1, 30], "nice": false, "zero": false}, "axis": null}, "text": {"field": "label"}}
    }
   ],
   "resolve": {"scale": {"y": "independent"}, "axis": {"y": "independent"}}
  },
  {
   "width": 403,
   "height": 205,
   "data": {"name": "leg"},
   "encoding": {"y": {"field": "r", "type": "quantitative", "scale": {"domain": [-0.04, 6.04], "reverse": true, "nice": false, "zero": false}, "axis": null}},
   "layer": [
    {
     "transform": [{"filter": "datum.r >= 3"}],
     "mark": {"type": "rule", "strokeWidth": 2},
     "encoding": {
      "x": {"datum": 0.5, "type": "quantitative", "scale": {"domain": [0, 10], "nice": false, "zero": false}, "axis": null},
      "x2": {"datum": 1.99},
      "color": {"field": "k", "type": "nominal", "scale": {"domain": ["ammonium on-line", "nitrate on-line", "nitrite off-line", "nitrate off-line", "ammonium off-line"], "range": ["#00ff00", "#0000ff", "#808080", "#0000ff", "#00ff00"]}, "legend": null}
     }
    },
    {
     "transform": [{"filter": "datum.r >= 3"}],
     "mark": {"type": "point", "filled": true, "color": "#808080", "opacity": 1},
     "encoding": {
      "x": {"datum": 1.24, "type": "quantitative"},
      "shape": {"field": "k", "type": "nominal", "scale": {"domain": ["nitrite off-line", "nitrate off-line", "ammonium off-line"], "range": ["circle", "triangle-up", "square"]}, "legend": null},
      "size": {"field": "k", "type": "ordinal", "scale": {"domain": ["nitrite off-line", "nitrate off-line", "ammonium off-line"], "range": [85, 150, 72]}, "legend": null}
     }
    },
    {
     "transform": [{"filter": "datum.r <= 2"}],
     "mark": {"type": "circle", "size": 12, "opacity": 1},
     "encoding": {
      "x": {"datum": 1.24, "type": "quantitative"},
      "color": {"field": "k", "type": "nominal", "legend": null}
     }
    },
    {
     "mark": {"type": "text", "align": "left", "baseline": "middle", "font": "Liberation Serif", "fontSize": 26, "color": "black"},
     "encoding": {
      "x": {"datum": 2.4, "type": "quantitative"},
      "text": {"field": "k"}
     }
    }
   ]
  }
 ]
}
